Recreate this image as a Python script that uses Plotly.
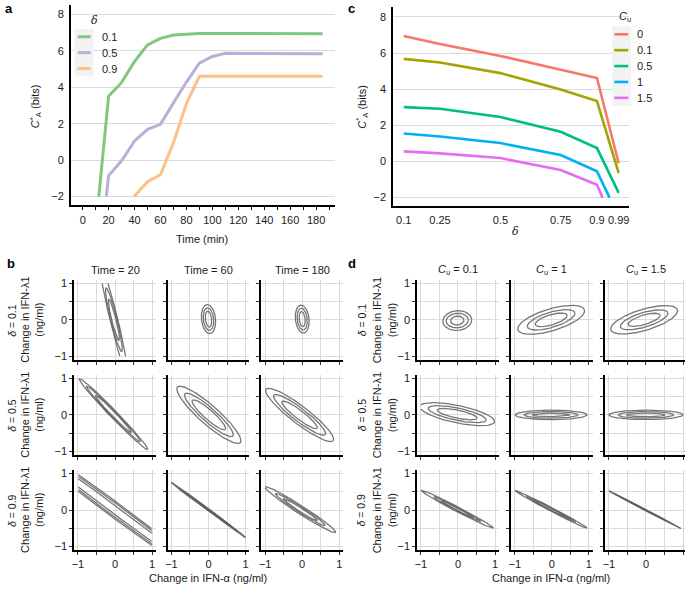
import numpy as np
import plotly.graph_objects as go

W, H = 685, 589
FONT = "Liberation Sans, Arial, sans-serif"
TXT = "#1a1a1a"

# ---------------- panel a data ----------------
time_min = [0, 10, 20, 30, 40, 50, 60, 70, 80, 90, 100, 110, 120, 130, 140, 150, 160, 170, 180, 185]
delta_a_labels = ["0.1", "0.5", "0.9"]
cap_delta01 = [-9.0, -3.74, 3.50, 4.26, 5.41, 6.32, 6.68, 6.86, 6.92, 6.94, 6.95, 6.95, 6.95, 6.95, 6.95, 6.94, 6.94, 6.93, 6.93, 6.93]
cap_delta05 = [-12.0, -7.2, -0.85, -0.04, 1.05, 1.69, 1.96, 3.14, 4.28, 5.32, 5.68, 5.86, 5.85, 5.84, 5.84, 5.83, 5.83, 5.83, 5.83, 5.83]
cap_delta09 = [-20.0, -15.0, -8.0, -3.0, -1.97, -1.18, -0.80, 0.96, 3.10, 4.60, 4.60, 4.60, 4.60, 4.60, 4.60, 4.60, 4.60, 4.60, 4.60, 4.60]
colors_a = ["#7FC97F", "#BEAED4", "#FDC086"]

# ---------------- panel c data ----------------
delta_c = [0.1, 0.25, 0.5, 0.75, 0.9, 0.99]
delta_c_ticks = ["0.1", "0.25", "0.5", "0.75", "0.9", "0.99"]
cv_labels = ["0", "0.1", "0.5", "1", "1.5"]
cap_cv0 = [6.94, 6.50, 5.84, 5.07, 4.62, -0.10]
cap_cv01 = [5.68, 5.48, 4.89, 3.98, 3.34, -0.65]
cap_cv05 = [3.01, 2.92, 2.46, 1.64, 0.74, -1.74]
cap_cv1 = [1.55, 1.38, 1.02, 0.36, -0.54, -3.06]
cap_cv15 = [0.56, 0.45, 0.19, -0.47, -1.29, -4.07]
colors_c = ["#F8766D", "#A3A500", "#00BF7D", "#00B0F6", "#E76BF3"]

# ---------------- panel b ellipses (rows: delta, cols: time) ----------------
b_rows = ["0.1", "0.5", "0.9"]
b_cols = ["20", "60", "180"]
b_cx = [[-0.03, 0.0, 0.0], [-0.04, 0.01, -0.07], [0.0, 0.0, -0.05]]
b_cy = [[0.0, 0.02, 0.02], [0.02, 0.0, 0.0], [0.0, 0.0, 0.01]]
b_angle = [[-76.5, 96, 96], [-46.5, -42, -38], [-37, -37, -33.3]]
b_major = [[[1.5, 0.9, 0.58], [0.40, 0.31, 0.22], [0.385, 0.30, 0.21]],
           [[1.34, 1.05, 0.70], [1.14, 0.87, 0.60], [1.15, 0.88, 0.60]],
           [[3.0, 2.7, 2.4], [1.27, 1.0, 0.75], [1.14, 0.80, 0.55]]]
b_minor = [[[0.105, 0.085, 0.06], [0.19, 0.14, 0.085], [0.185, 0.135, 0.08]],
           [[0.10, 0.08, 0.06], [0.26, 0.19, 0.13], [0.24, 0.18, 0.12]],
           [[0.20, 0.16, 0.105], [0.03, 0.022, 0.015], [0.11, 0.08, 0.05]]]

# ---------------- panel d ellipses (rows: delta, cols: Cv) ----------------
d_rows = ["0.1", "0.5", "0.9"]
d_cols = ["0.1", "1", "1.5"]
d_cx = [[-0.02, -0.02, -0.05], [-0.02, -0.02, 0.0], [-0.015, -0.02, -0.05]]
d_cy = [[-0.02, 0.0, 0.0], [0.02, 0.0, 0.0], [0.02, 0.02, 0.02]]
d_angle = [[5, 17, 17], [-12, 0, 0], [-28, -28, -28]]
d_major = [[[0.39, 0.30, 0.18], [0.94, 0.67, 0.45], [0.94, 0.67, 0.45]],
           [[1.03, 0.80, 0.55], [0.97, 0.73, 0.50], [1.0, 0.75, 0.52]],
           [[1.10, 0.72, 0.50], [1.10, 0.75, 0.55], [1.12, 0.90, 0.70]]]
d_minor = [[[0.27, 0.20, 0.12], [0.30, 0.21, 0.14], [0.29, 0.20, 0.13]],
           [[0.24, 0.17, 0.11], [0.13, 0.09, 0.05], [0.13, 0.09, 0.05]],
           [[0.065, 0.045, 0.03], [0.05, 0.035, 0.025], [0.015, 0.01, 0.007]]]


def px(p):
    return p / W


def py(p):
    return 1 - p / H


def clip_below(xs, ys, lo):
    ox, oy = [], []
    for i in range(len(xs)):
        x, y = xs[i], ys[i]
        if i > 0:
            x0, y0 = xs[i - 1], ys[i - 1]
            if (y0 < lo) != (y < lo):
                f = (lo - y0) / (y - y0)
                ox.append(x0 + f * (x - x0))
                oy.append(lo)
        if y >= lo:
            ox.append(x)
            oy.append(y)
        elif ox and ox[-1] is not None:
            ox.append(None)
            oy.append(None)
    return ox, oy


def ellipse(cx, cy, ang, a, b, n=720):
    t = np.linspace(0, 2 * np.pi, n)
    th = np.deg2rad(ang)
    x = cx + a * np.cos(th) * np.cos(t) - b * np.sin(th) * np.sin(t)
    y = cy + a * np.sin(th) * np.cos(t) + b * np.cos(th) * np.sin(t)
    out = (np.abs(x) > 1.0) | (np.abs(y) > 1.0)
    x = np.where(out, np.nan, x)
    y = np.where(out, np.nan, y)
    return x, y


fig = go.Figure()
layout = {}
annotations = []
shapes = []

tickfont = dict(family=FONT, size=11, color=TXT)
GRID = "#dadada"

# ---------------- panel a ----------------
layout["xaxis"] = dict(domain=[px(68), px(333)], range=[-9.25, 194.25], anchor="y",
                       showline=True, linecolor="black", linewidth=1.5,
                       ticks="outside", ticklen=4, tickcolor="black", tickwidth=1,
                       tick0=0, dtick=20, minor=dict(dtick=10, tick0=0, ticks="outside", ticklen=4, tickcolor="black"),
                       showgrid=False, zeroline=False, tickfont=tickfont)
layout["yaxis"] = dict(domain=[py(204), py(3.5)], range=[-2.44, 8.48], anchor="x",
                       showline=True, linecolor="black", linewidth=1.5,
                       tickvals=[-2, 0, 2, 4, 6, 8], ticks="", ticklabelstandoff=3,
                       showgrid=True, gridcolor=GRID, gridwidth=1, zeroline=False, tickfont=tickfont)
for vals, col in zip([cap_delta01, cap_delta05, cap_delta09], colors_a):
    cx_, cy_ = clip_below(time_min, vals, -2)
    fig.add_trace(go.Scatter(x=cx_, y=cy_, mode="lines", line=dict(color=col, width=3),
                             xaxis="x", yaxis="y", showlegend=False, hoverinfo="skip"))

# ---------------- panel c ----------------
layout["xaxis2"] = dict(domain=[px(391.7), px(629.2)], range=[0.0555, 1.0345], anchor="y2",
                        showline=True, linecolor="black", linewidth=1.5,
                        tickvals=delta_c, ticktext=delta_c_ticks, ticks="", ticklabelstandoff=3,
                        showgrid=False, zeroline=False, tickfont=tickfont)
layout["yaxis2"] = dict(domain=[py(205.7), py(5)], range=[-2.48, 8.55], anchor="x2",
                        showline=True, linecolor="black", linewidth=1.5,
                        tickvals=[-2, 0, 2, 4, 6, 8], ticks="", ticklabelstandoff=3,
                        showgrid=True, gridcolor=GRID, gridwidth=1, zeroline=False, tickfont=tickfont)
for vals, col in zip([cap_cv0, cap_cv01, cap_cv05, cap_cv1, cap_cv15], colors_c):
    cx_, cy_ = clip_below(delta_c, vals, -2)
    fig.add_trace(go.Scatter(x=cx_, y=cy_, mode="lines", line=dict(color=col, width=2.6),
                             xaxis="x2", yaxis="y2", showlegend=False, hoverinfo="skip"))

# ---------------- small multiples ----------------
SX, SY = 37.2, 36.7
row_centers = [320.0, 415.7, 511.5]
b_col_centers = [112.5, 206.4, 300.5]
d_col_centers = [457.0, 551.3, 645.8]
ELL = "rgba(95,95,95,0.85)"


def small_axes(idx, cxp, cyp, r, c):
    right = min(cxp + 1.1 * SX, W)
    xr_hi = (right - cxp) / SX
    layout[f"xaxis{idx}"] = dict(domain=[px(cxp - 1.1 * SX), px(right)], range=[-1.1, xr_hi], anchor=f"y{idx}",
                                 showline=True, linecolor="black", linewidth=2,
                                 tick0=0, dtick=1, ticks="outside", ticklen=3, tickcolor="#333", tickwidth=1,
                                 minor=dict(dtick=0.5, tick0=0, ticks="outside", ticklen=3, tickcolor="#333",
                                            showgrid=True, gridcolor=GRID, gridwidth=1),
                                 showticklabels=(r == 2), showgrid=True, gridcolor=GRID, gridwidth=1,
                                 zeroline=False, tickfont=tickfont)
    layout[f"yaxis{idx}"] = dict(domain=[py(cyp + 1.1 * SY), py(cyp - 1.1 * SY)], range=[-1.1, 1.1], anchor=f"x{idx}",
                                 showline=True, linecolor="black", linewidth=2,
                                 tick0=0, dtick=1, ticks="outside", ticklen=3, tickcolor="#333", tickwidth=1,
                                 minor=dict(dtick=0.5, tick0=0, ticks="outside", ticklen=3, tickcolor="#333",
                                            showgrid=True, gridcolor=GRID, gridwidth=1),
                                 showticklabels=(c == 0), showgrid=True, gridcolor=GRID, gridwidth=1,
                                 zeroline=False, tickfont=tickfont)


for panel, (centers, cxs, cys, angs, majs, mins, base) in enumerate([
        (b_col_centers, b_cx, b_cy, b_angle, b_major, b_minor, 3),
        (d_col_centers, d_cx, d_cy, d_angle, d_major, d_minor, 12)]):
    for r in range(3):
        for c in range(3):
            idx = base + r * 3 + c
            small_axes(idx, centers[c], row_centers[r], r, c)
            for k in range(3):
                ex, ey = ellipse(cxs[r][c], cys[r][c], angs[r][c], majs[r][c][k], mins[r][c][k])
                fig.add_trace(go.Scatter(x=ex, y=ey, mode="lines", line=dict(color=ELL, width=1.3),
                                         xaxis=f"x{idx}", yaxis=f"y{idx}", showlegend=False, hoverinfo="skip"))


def ann(text, x, y, size=11, angle=0, xanchor="center", yanchor="middle", bold=False, color=TXT, family=FONT):
    if bold:
        text = f"<b>{text}</b>"
    annotations.append(dict(text=text, x=px(x), y=py(y), xref="paper", yref="paper", showarrow=False,
                            font=dict(family=family, size=size, color=color), textangle=angle,
                            xanchor=xanchor, yanchor=yanchor))


# panel letters
ann("a", 0, 7, size=13, bold=True, xanchor="left", color="black")
ann("c", 345, 7, size=13, bold=True, xanchor="left", color="black")
ann("b", 2, 263, size=13, bold=True, xanchor="left", color="black")
ann("d", 345, 263, size=13, bold=True, xanchor="left", color="black")

# axis titles a / c
ann("<i>C</i><sup>*</sup><sub>A</sub> (bits)", 33, 105, angle=-90)
ann("<i>C</i><sup>*</sup><sub>A</sub> (bits)", 361, 105, angle=-90)
ann("Time (min)", 200, 239)
ann("<i>δ</i>", 515, 231, family="DejaVu Serif, serif", size=11)

# legends (manual)
shapes.append(dict(type="rect", xref="paper", yref="paper", x0=px(72), x1=px(91), y0=py(75), y1=py(27),
                   fillcolor="#f2f2f2", line=dict(width=0), layer="above"))
ann("<i>δ</i>", 92, 19, family="DejaVu Serif, serif", size=11)
for i, (lab, col) in enumerate(zip(delta_a_labels, colors_a)):
    yy = 35 + 16 * i
    shapes.append(dict(type="line", xref="paper", yref="paper", x0=px(75), x1=px(88), y0=py(yy), y1=py(yy),
                       line=dict(color=col, width=3), layer="above"))
    ann(lab, 97, yy, xanchor="left")

shapes.append(dict(type="rect", xref="paper", yref="paper", x0=px(612), x1=px(631), y0=py(104.5), y1=py(24.5),
                   fillcolor="#f2f2f2", line=dict(width=0), layer="above"))
ann("<i>C</i><sub>υ</sub>", 625, 15)
for i, (lab, col) in enumerate(zip(cv_labels, colors_c)):
    yy = 32.5 + 16 * i
    shapes.append(dict(type="line", xref="paper", yref="paper", x0=px(614), x1=px(628), y0=py(yy), y1=py(yy),
                       line=dict(color=col, width=2.6), layer="above"))
    ann(lab, 635, yy, xanchor="left")

# small multiple labels
for c in range(3):
    ann(f"Time = {b_cols[c]}", b_col_centers[c], 270)
    ann(f"<i>C</i><sub>υ</sub> = {d_cols[c]}", d_col_centers[c], 270)
for r in range(3):
    ann(f"<i>δ</i> = {b_rows[r]}", 9, row_centers[r], angle=-90, size=10.5)
    ann("Change in IFN-λ1<br>(ng/ml)", 29, row_centers[r], angle=-90)
    ann(f"<i>δ</i> = {d_rows[r]}", 360, row_centers[r], angle=-90, size=10.5)
    ann("Change in IFN-λ1<br>(ng/ml)", 383, row_centers[r], angle=-90)
ann("Change in IFN-α (ng/ml)", 206, 580)
ann("Change in IFN-α (ng/ml)", 550, 580)

fig.update_layout(**layout)
fig.update_layout(width=W, height=H, margin=dict(l=0, r=0, t=0, b=0),
                  paper_bgcolor="white", plot_bgcolor="white",
                  annotations=annotations, shapes=shapes, showlegend=False,
                  font=dict(family=FONT, size=11, color=TXT))
fig.write_html("out.html", config={"displayModeBar": False},
               post_script="document.body.style.margin='0px';document.body.style.overflow='hidden';")
